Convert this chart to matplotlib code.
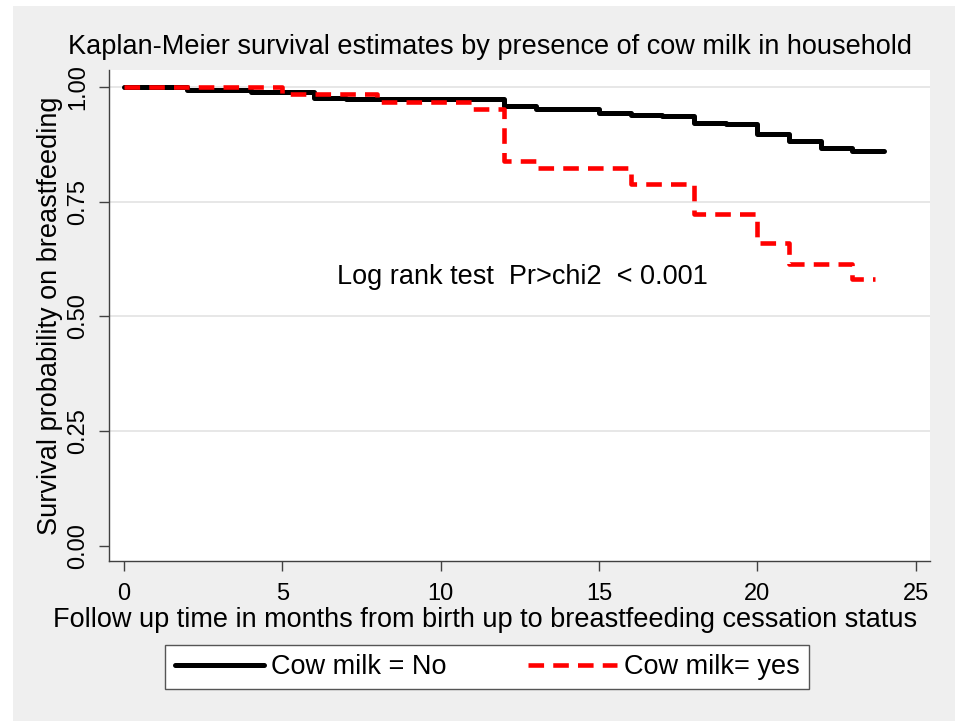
import matplotlib.pyplot as plt
from matplotlib.patches import Rectangle

plt.rcParams['font.family'] = ['Liberation Sans', 'DejaVu Sans']

# Kaplan-Meier step data (time in months, survival)
t_no = [0, 2, 4, 6, 7, 12, 13, 15, 16, 17, 18, 19, 20, 21, 22, 23, 24]
s_no = [1.000, 0.994, 0.988, 0.977, 0.973, 0.959, 0.951, 0.944, 0.939, 0.937,
        0.922, 0.920, 0.898, 0.882, 0.866, 0.861, 0.861]

t_yes = [0, 5, 8, 11, 12, 13, 16, 18, 20, 21, 23, 23.7]
s_yes = [1.000, 0.984, 0.968, 0.953, 0.839, 0.823, 0.789, 0.724, 0.661, 0.614,
         0.581, 0.581]

xticks = [0, 5, 10, 15, 20, 25]
yticks = [0.00, 0.25, 0.50, 0.75, 1.00]
ytick_labels = ["0.00", "0.25", "0.50", "0.75", "1.00"]

FS = 19.5

fig = plt.figure(figsize=(9.55, 7.21), dpi=100, facecolor="white")
W, H = 955, 721
fig.patches.append(Rectangle((13 / W, 0), 1 - 13 / W, 1 - 6 / H,
                             transform=fig.transFigure, facecolor="#efefef",
                             edgecolor="none", zorder=-10))

ax = fig.add_axes([109 / W, 1 - 561 / H, (930 - 109) / W, (561 - 70) / H])
ax.set_facecolor("white")

for y in [0.25, 0.50, 0.75, 1.00]:
    ax.axhline(y, color="#e3e3e3", linewidth=1.2, zorder=0)

ax.step(t_no, s_no, where="post", color="black", linewidth=3.6,
        solid_capstyle="round", label="Cow milk = No", zorder=2)
ax.step(t_yes, s_yes, where="post", color="#ff0000", linewidth=3.3,
        linestyle=(0, (3.4, 2.0)), label="Cow milk= yes", zorder=3)

ax.text(6.72, 0.585, "Log rank test  Pr>chi2  < 0.001", fontsize=FS,
        va="center", ha="left")

ax.set_xlim(-0.47, 25.45)
ax.set_ylim(-0.033, 1.037)
ax.set_xticks(xticks)
ax.set_yticks(yticks)
ax.set_yticklabels(ytick_labels, rotation=90, va="center")
ax.tick_params(axis="both", direction="out", length=7, width=1,
               color="#404040", labelsize=17, pad=7)
ax.tick_params(axis="x", pad=9)

for side in ["top", "right"]:
    ax.spines[side].set_visible(False)
for side in ["left", "bottom"]:
    ax.spines[side].set_color("#404040")
    ax.spines[side].set_linewidth(1.0)

ax.set_xlabel("Follow up time in months from birth up to breastfeeding cessation status",
              fontsize=FS)
ax.xaxis.set_label_coords((485 - 109) / 821, -(620 - 561) / 491)
ax.xaxis.label.set_va("center")
ax.set_ylabel("Survival probability on breastfeeding", fontsize=FS, labelpad=3)
ax.set_title("Kaplan-Meier survival estimates by presence of cow milk in household",
             fontsize=FS, x=(490 - 109) / 821, y=(70 - 47) / 491 + 1,
             va="center", pad=0)

leg = fig.legend(loc="center", bbox_to_anchor=(487 / W, 1 - 667 / H), ncol=2,
                 fontsize=FS, frameon=True, fancybox=False,
                 edgecolor="#555555", facecolor="white", framealpha=1,
                 handlelength=3.3, handletextpad=0.25, columnspacing=3.0,
                 borderpad=0.35, borderaxespad=0)
leg.get_frame().set_linewidth(1.0)

plt.savefig("out.png", dpi=100, facecolor=fig.get_facecolor())
